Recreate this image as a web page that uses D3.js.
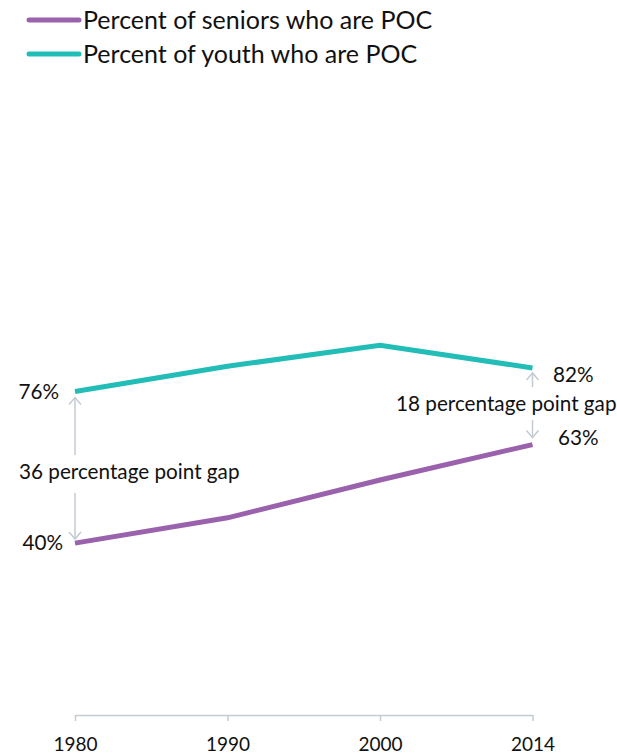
<!DOCTYPE html>
<html>
<head>
<meta charset="utf-8">
<script src="https://cdnjs.cloudflare.com/ajax/libs/d3/7.8.5/d3.min.js"></script>
<style>
  body { margin: 0; background: #fff; }
  svg { display: block; font-family: Lato, "Open Sans", sans-serif; }
</style>
</head>
<body>
<svg width="617" height="754"></svg>
<script>
// data
var years = ["1980", "1990", "2000", "2014"];
var seniors = [40, 46, 55, 63.4];
var youth = [76, 82, 87, 81.6];
var seriesNames = ["Percent of seniors who are POC", "Percent of youth who are POC"];
var seriesColors = ["#9a62ac", "#22bdb7"];
var gapLabels = ["36 percentage point gap", "18 percentage point gap"];

var w = 617, h = 754;
var svg = d3.select("svg");

var x = d3.scalePoint()
    .domain(years)
    .range([75, 532.5]);

var y = d3.scaleLinear()
    .domain([0, 100])
    .range([711.5, 290.5]);

// x axis
var axisY = 715;
var xAxis = svg.append("g")
    .attr("transform", "translate(0," + axisY + ")")
    .call(d3.axisBottom(x).tickSize(6).tickPadding(17).tickSizeOuter(0));
xAxis.select(".domain").attr("stroke", "#c3cbd3").attr("stroke-width", 1.5);
xAxis.selectAll(".tick line").attr("stroke", "#c3cbd3").attr("stroke-width", 1.5);
xAxis.selectAll(".tick text")
    .attr("font-family", "Lato, sans-serif")
    .attr("font-size", 19)
    .attr("fill", "#111");

// lines
var line = d3.line()
    .x(function (d, i) { return x(years[i]); })
    .y(function (d) { return y(d); });

[seniors, youth].forEach(function (s, i) {
    svg.append("path")
        .datum(s)
        .attr("d", line)
        .attr("fill", "none")
        .attr("stroke", seriesColors[i])
        .attr("stroke-width", 5);
});

// legend
var legend = svg.selectAll(".legend")
    .data(seriesNames)
    .enter()
    .append("g")
    .attr("transform", function (d, i) { return "translate(0," + (20 + i * 34) + ")"; });
legend.append("line")
    .attr("x1", 29).attr("x2", 79)
    .attr("stroke", function (d, i) { return seriesColors[i]; })
    .attr("stroke-width", 5)
    .attr("stroke-linecap", "round");
legend.append("text")
    .attr("x", 83)
    .attr("dy", "0.35em")
    .attr("font-size", 25)
    .attr("fill", "#111")
    .text(function (d) { return d; });

// end labels
var labelSize = 20.7;
function label(txt, xx, yy, anchor) {
    svg.append("text")
        .attr("x", xx).attr("y", yy)
        .attr("dy", "0.35em")
        .attr("text-anchor", anchor)
        .attr("font-size", labelSize)
        .attr("fill", "#111")
        .text(txt);
}
var last = years.length - 1;
label(Math.round(youth[0]) + "%", 59, y(youth[0]), "end");
label(Math.round(seniors[0]) + "%", 63, y(seniors[0]), "end");
label(Math.round(youth[last]) + "%", 553, y(youth[last]) + 7, "start");
label(Math.round(seniors[last]) + "%", 558, y(seniors[last]) - 7, "start");

// gap arrows
var arrowColor = "#c3cbd3";
function arrow(xx, y1, y2) {
    // y1 = tail, y2 = head
    svg.append("line")
        .attr("x1", xx).attr("x2", xx)
        .attr("y1", y1).attr("y2", y2)
        .attr("stroke", arrowColor).attr("stroke-width", 1.5);
    var dir = y2 < y1 ? 1 : -1;
    svg.append("path")
        .attr("d", "M" + (xx - 6) + "," + (y2 + dir * 7) + "L" + xx + "," + y2 + "L" + (xx + 6) + "," + (y2 + dir * 7))
        .attr("fill", "none")
        .attr("stroke", arrowColor).attr("stroke-width", 1.5);
}

var x0 = x(years[0]), x1 = x(years[last]);
var midL = 472, midR = 404;
arrow(x0, midL - 17, y(youth[0]) + 6);
arrow(x0, midL + 21, y(seniors[0]) - 4);
arrow(x1, midR - 17, y(youth[last]) + 5);
arrow(x1, midR + 16, y(seniors[last]) - 7);
label(gapLabels[0], 19, midL, "start");
label(gapLabels[1], 396, midR, "start");
</script>
</body>
</html>
